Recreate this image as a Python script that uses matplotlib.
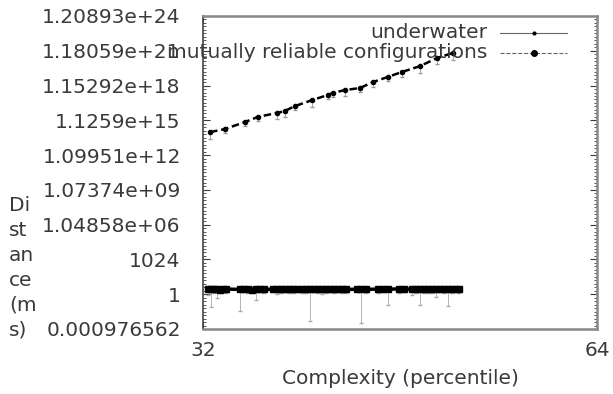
import numpy as np
import matplotlib.pyplot as plt
from matplotlib.lines import Line2D
from matplotlib.ticker import FixedLocator, FuncFormatter, NullFormatter

# upper series: complexity percentile vs distance (ms)
upper_x = [32.40, 33.26, 34.45, 35.25, 36.45, 36.96, 37.62, 38.76, 39.87, 40.22,
           41.08, 42.18, 43.16, 44.31, 45.41, 46.88, 48.29, 49.68]
upper_y = [1.07e14, 1.99e14, 7.96e14, 2.25e15, 4.83e15, 7.32e15, 1.93e16, 6.27e16,
           1.77e17, 2.69e17, 4.68e17, 7.10e17, 2.31e18, 6.52e18, 1.72e19, 5.58e19,
           2.75e20, 7.77e20]
upper_lo = [2.5e13, 9.0e13, 4.0e14, 1.0e15, 1.5e15, 2.0e15, 9.0e15, 1.6e16,
            8.0e16, 1.2e17, 1.5e17, 3.0e17, 9.0e17, 3.0e18, 6.0e18, 1.4e19,
            9.0e19, 2.0e20]

# lower series
lower_x = [32.28, 32.45, 32.62, 32.80, 32.97, 33.15, 33.32, 34.15, 34.39, 34.64,
           34.88, 35.13, 35.38, 35.63, 36.19, 36.45, 36.71, 36.96, 37.22, 37.49,
           37.75, 38.09, 38.36, 38.63, 38.90, 39.17, 39.45, 39.73, 40.01, 40.29,
           40.58, 40.87, 41.16, 41.96, 42.26, 42.63, 43.54, 43.92, 44.31, 45.18,
           45.57, 46.22, 46.55, 46.87, 47.21, 47.54, 47.88, 48.21, 48.55, 48.90,
           49.24, 49.59, 49.94, 50.20]
lower_y = [2.8, 2.6, 2.7, 3.0, 2.5, 2.7, 2.8, 2.6, 2.9, 2.7,
           2.5, 2.8, 2.7, 2.6, 2.7, 2.9, 2.6, 2.8, 2.7, 3.0,
           2.6, 2.9, 2.7, 3.0, 2.8, 2.6, 2.7, 2.8, 2.6, 2.9,
           2.7, 2.8, 2.6, 2.7, 2.9, 2.6, 2.8, 2.6, 2.7, 2.9,
           2.7, 2.8, 2.6, 2.7, 2.9, 2.8, 2.6, 2.7, 2.8, 2.6,
           2.7, 2.9, 2.6, 2.7]
lower_lo = [0.8, 0.08, 1.2, 0.5, 1.3, 1.5, 1.4, 0.036, 1.5, 1.3,
            1.4, 0.3, 1.6, 1.2, 1.5, 1.1, 1.3, 1.5, 1.4, 1.2,
            1.5, 1.4, 1.3, 0.0048, 1.5, 1.2, 1.0, 1.4, 1.5, 1.3,
            1.5, 1.4, 1.2, 1.5, 0.0032, 1.4, 1.3, 1.5, 0.12, 1.4,
            1.5, 0.9, 1.3, 0.12, 1.4, 1.2, 1.3, 0.6, 1.5, 1.3,
            0.09, 1.4, 1.5, 1.3]

y_ticks = [2.0 ** k for k in range(-10, 81, 10)]
x_ticks = [32, 64]

FS = 14.5
TXT = '#3a3a3a'
plt.rcParams['font.family'] = ['DejaVu Sans']
fig = plt.figure(figsize=(6.13, 3.94), dpi=100)
ax = fig.add_axes([0.3312, 0.165, 0.6427, 0.7944])

upper_err = [np.array(upper_y) - np.array(upper_lo), np.zeros(len(upper_y))]
ax.errorbar(upper_x, upper_y, yerr=upper_err, fmt='o--', color='black', ms=3,
            lw=1.8, ecolor='#999999', elinewidth=0.6, capsize=1.5, dashes=(3, 1.5))
lower_err = [np.array(lower_y) - np.array(lower_lo), np.zeros(len(lower_y))]
ax.errorbar(lower_x, lower_y, yerr=lower_err, fmt='s-', color='black', ms=4.5,
            lw=2.5, ecolor='#aaaaaa', elinewidth=0.6, capsize=1.5)

ax.set_xscale('log', base=2)
ax.set_yscale('log', base=2)
ax.set_xlim(32, 64)
ax.set_ylim(2.0 ** -10, 2.0 ** 80)

ax.yaxis.set_major_locator(FixedLocator(y_ticks))
ax.yaxis.set_minor_locator(FixedLocator([2.0 ** k for k in range(-10, 81) if k % 10]))
ax.yaxis.set_major_formatter(FuncFormatter(lambda v, p: '%g' % v))
ax.yaxis.set_minor_formatter(NullFormatter())
ax.xaxis.set_major_locator(FixedLocator(x_ticks))
ax.xaxis.set_minor_locator(FixedLocator([]))
ax.xaxis.set_major_formatter(FuncFormatter(lambda v, p: '%g' % v))

ax.tick_params(axis='both', which='both', direction='in', right=True, top=True,
               labelsize=FS, colors=TXT)
ax.tick_params(axis='y', which='major', length=5, pad=16)
ax.tick_params(axis='y', which='minor', length=2.5)
ax.tick_params(axis='x', which='major', length=5, pad=9)
for s in ax.spines.values():
    s.set_color('#888888')
    s.set_linewidth(1.8)
ax.spines['left'].set_color('#444444')
ax.spines['left'].set_linewidth(1.2)

ax.set_xlabel('Complexity (percentile)', fontsize=FS, color=TXT, labelpad=6)
fig.text(0.015, 0.32, 'Di\nst\nan\nce\n(m\ns)', fontsize=FS, color=TXT,
         ha='left', va='center', linespacing=1.4)

# legend drawn by hand, text right aligned like gnuplot
leg_x = 487 / 613
for i, (lab, ls, ms) in enumerate([('underwater', '-', 2), ('mutually reliable configurations', '--', 4)]):
    yy = 1 - (33 + 20 * i) / 394
    fig.text(leg_x, yy, lab, fontsize=FS, color=TXT, ha='right', va='center')
    fig.add_artist(Line2D([500 / 613, 567 / 613], [yy, yy], transform=fig.transFigure,
                          color='#666666', lw=0.8, ls=ls))
    fig.add_artist(Line2D([534 / 613], [yy], transform=fig.transFigure, marker='o',
                          color='black', ms=ms))

fig.savefig('out.png', dpi=100)
